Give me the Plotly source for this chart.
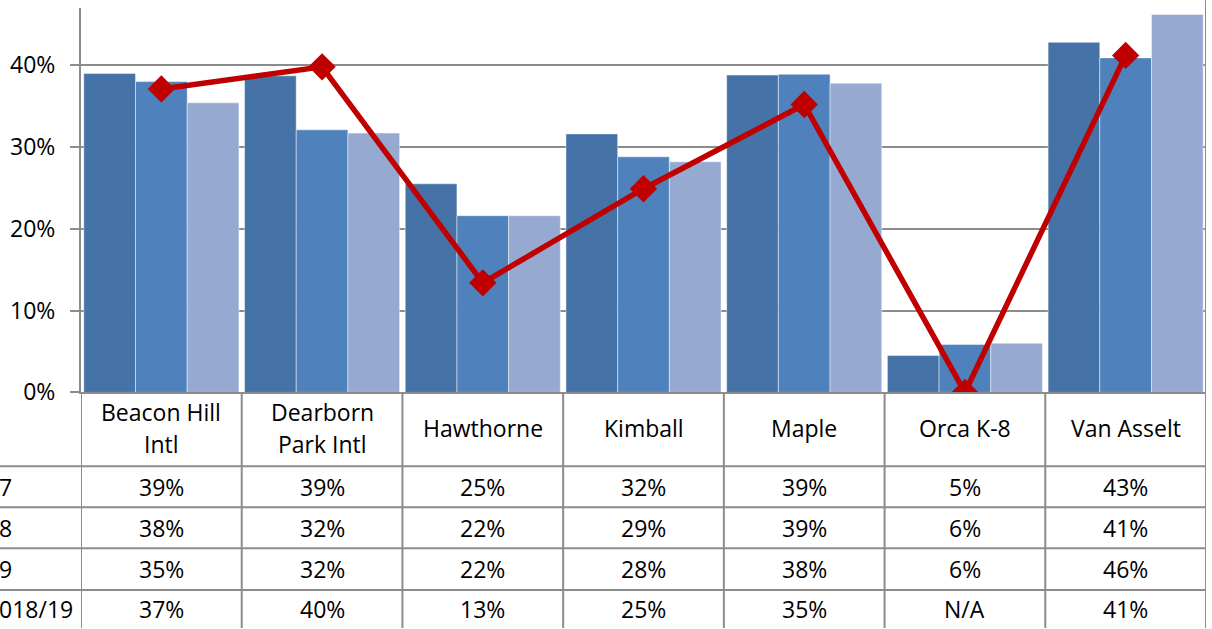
import plotly.graph_objects as go

schools = ["Beacon Hill Intl", "Dearborn Park Intl", "Hawthorne", "Kimball", "Maple", "Orca K-8", "Van Asselt"]
header_lines = [["Beacon Hill", "Intl"], ["Dearborn", "Park Intl"], ["Hawthorne"], ["Kimball"], ["Maple"], ["Orca K-8"], ["Van Asselt"]]

series_names = ["7", "8", "9"]
s1 = [0.390, 0.387, 0.255, 0.316, 0.388, 0.045, 0.428]
s2 = [0.380, 0.321, 0.216, 0.288, 0.389, 0.0585, 0.409]
s3 = [0.354, 0.317, 0.216, 0.282, 0.378, 0.060, 0.462]
line_name = "018/19"
line_vals = [0.371, 0.398, 0.134, 0.249, 0.352, 0.0, 0.412]

table_rows = [
    ["39%", "39%", "25%", "32%", "39%", "5%", "43%"],
    ["38%", "32%", "22%", "29%", "39%", "6%", "41%"],
    ["35%", "32%", "22%", "28%", "38%", "6%", "46%"],
    ["37%", "40%", "13%", "25%", "35%", "N/A", "41%"],
]
row_labels = ["7", "8", "9", "018/19"]

W, H = 1212, 643      # page height; the photo maps it onto 629 px
IMG_H = 629
FONT = "Open Sans, sans-serif"
FS = 23
GRID = "#8c8c8c"
colors = ["#4572A7", "#4F81BD", "#95A9D1"]

def py(p):
    return 1 - p / IMG_H

x_left, x_right = 81 / W, 1206 / W
y_bottom, y_top = py(393), py(8)

fig = go.Figure()
for name, vals, c in zip(series_names, [s1, s2, s3], colors):
    fig.add_trace(go.Bar(x=schools, y=vals, name=name, marker=dict(color=c, line=dict(color="rgba(255,255,255,0.45)", width=1))))
fig.add_trace(go.Scatter(x=schools, y=line_vals, name=line_name, mode="lines+markers",
                         line=dict(color="#C00000", width=5.5),
                         marker=dict(symbol="diamond", size=21, color="#C00000")))

shapes = []
for i in range(len(schools) + 1):
    top = 1 if i == len(schools) else y_bottom
    shapes.append(dict(type="line", xref="x", yref="paper", x0=i - 0.5, x1=i - 0.5, y0=0, y1=top,
                       line=dict(color=GRID, width=2)))
for p in [467, 508, 549, 591]:
    shapes.append(dict(type="line", xref="paper", yref="paper", x0=0, x1=x_right, y0=py(p), y1=py(p),
                       line=dict(color=GRID, width=2)))

annotations = []
tf = dict(family=FONT, size=FS, color="#000000")
header_center = 429
line_gap = 32
for s, lines in zip(schools, header_lines):
    n = len(lines)
    for k, t in enumerate(lines):
        yc = header_center + (k - (n - 1) / 2) * line_gap
        annotations.append(dict(x=s, y=py(yc), xref="x", yref="paper", text=t, showarrow=False,
                                font=tf, xanchor="center", yanchor="middle"))
row_centers = [488, 529, 570, 610]
for r, (vals, yc) in enumerate(zip(table_rows, row_centers)):
    for s, v in zip(schools, vals):
        annotations.append(dict(x=s, y=py(yc), xref="x", yref="paper", text=v, showarrow=False,
                                font=tf, xanchor="center", yanchor="middle"))
    annotations.append(dict(x=-3 / W, y=py(yc), xref="paper", yref="paper", text=row_labels[r], showarrow=False,
                            font=tf, xanchor="left", yanchor="middle"))

fig.update_layout(
    width=W, height=H, margin=dict(l=0, r=0, t=0, b=0),
    paper_bgcolor="white", plot_bgcolor="white",
    barmode="group", bargap=0.035, bargroupgap=0,
    showlegend=False,
    shapes=shapes, annotations=annotations,
    font=dict(family=FONT, size=FS, color="#000000"),
    xaxis=dict(domain=[x_left, x_right], range=[-0.5, 6.5], showticklabels=False, ticks="",
               showgrid=False, showline=True, linecolor=GRID, linewidth=2, zeroline=False),
    yaxis=dict(domain=[y_bottom, y_top], range=[0, 0.47], dtick=0.1, tickformat=".0%",
               showgrid=True, gridcolor=GRID, gridwidth=2, zeroline=False,
               showline=True, linecolor=GRID, linewidth=2,
               ticks="outside", ticklen=9, tickwidth=2, tickcolor=GRID,
               tickfont=dict(family=FONT, size=FS, color="#000000"), ticklabelstandoff=10),
)

css = ("var s=document.documentElement.style;s.margin='0';s.padding='0';s.overflow='hidden';"
       "var b=document.body.style;b.margin='0';b.padding='0';b.overflow='hidden';")
fig.write_html("out.html", config={"displayModeBar": False}, post_script=css)
